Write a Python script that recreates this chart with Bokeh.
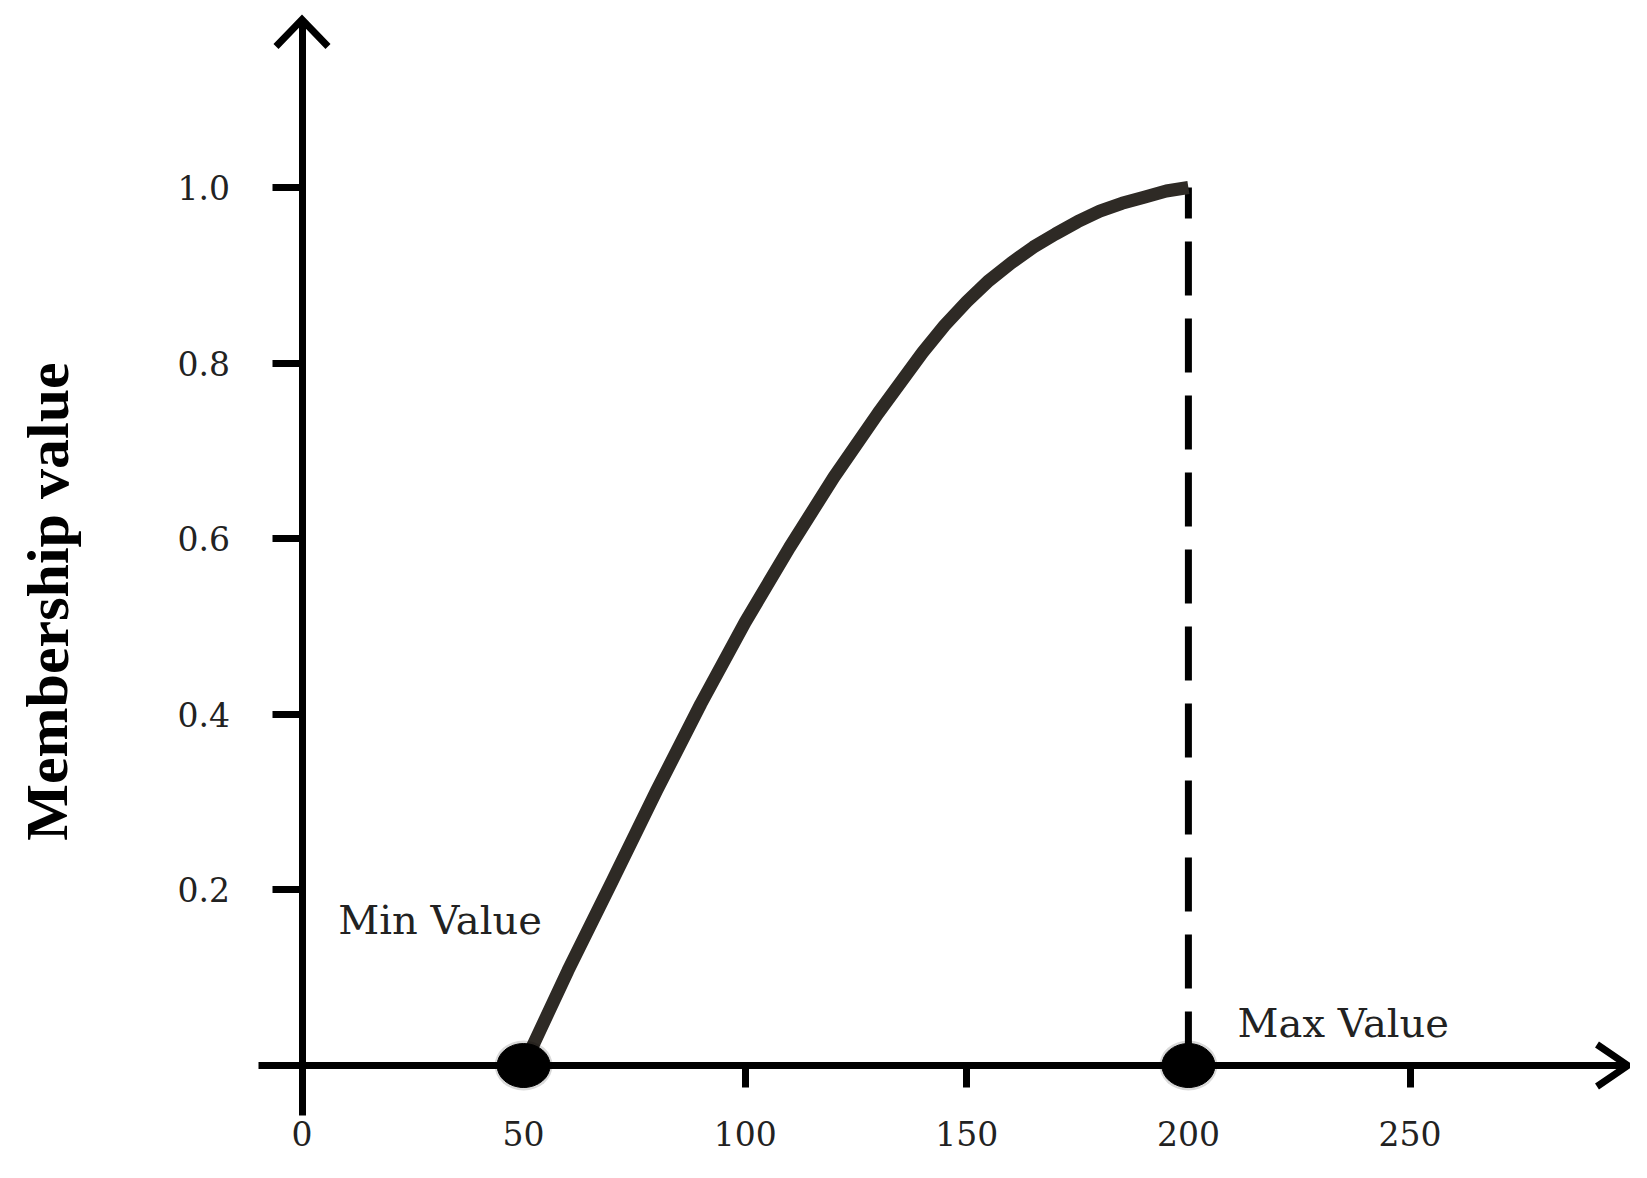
from bokeh.plotting import figure
from bokeh.models import (Range1d, LinearAxis, FixedTicker, PrintfTickFormatter,
                          Label, ColumnDataSource)
from bokeh.embed import file_html
from bokeh.resources import INLINE

# ---------------- data ----------------
curve_x = [50, 60, 70, 80, 90, 100, 110, 120, 130, 140, 145, 150, 155, 160,
           165, 170, 175, 180, 185, 190, 195, 200]
curve_y = [0.0, 0.108, 0.210, 0.313, 0.412, 0.505, 0.590, 0.670, 0.743, 0.812,
           0.843, 0.870, 0.894, 0.914, 0.932, 0.947, 0.961, 0.973, 0.982, 0.989,
           0.996, 1.0]
marker_x = [50, 200]          # Min Value, Max Value
marker_y = [0.0, 0.0]
marker_labels = ["Min Value", "Max Value"]
x_ticks = [0, 50, 100, 150, 200, 250]
y_ticks = [0.2, 0.4, 0.6, 0.8, 1.0]
y_axis_title = "Membership value"

# ---------------- layout ----------------
W, H = 1630, 1165
x0_px, kx = 301.5, 4.432      # canvas px of x=0, px per x unit
y0_px, ky = 1065.0, 878.0     # canvas px of y=0, px per y unit
x_range = Range1d(-x0_px / kx, (W - x0_px) / kx)
y_range = Range1d(-(H - y0_px) / ky, y0_px / ky)

p = figure(width=W, height=H, x_range=x_range, y_range=y_range,
           output_backend="svg", toolbar_location=None,
           x_axis_type=None, y_axis_type=None, min_border=0)
p.outline_line_color = None
p.grid.visible = False
p.background_fill_color = "white"
p.border_fill_color = "white"

AX_W = 7
y_bot = -50 / ky
y_tip = 1046 / ky
x_left = -44 / kx
x_tip = 1326 / kx

xaxis = LinearAxis(fixed_location=0, bounds=(x_left, x_tip - 3 / kx),
                   ticker=FixedTicker(ticks=x_ticks))
xaxis.axis_line_width = AX_W
xaxis.axis_line_color = "black"
xaxis.major_tick_line_width = AX_W
xaxis.major_tick_in = 0
xaxis.major_tick_out = 22
xaxis.minor_tick_line_color = None
xaxis.major_label_standoff = 33
xaxis.major_label_text_font = "DejaVu Serif"
xaxis.major_label_text_font_size = "33px"
xaxis.major_label_text_color = "#222222"
p.add_layout(xaxis, "below")

yaxis = LinearAxis(fixed_location=0, bounds=(y_bot, y_tip - 3 / ky),
                   ticker=FixedTicker(ticks=y_ticks),
                   formatter=PrintfTickFormatter(format="%.1f"))
yaxis.axis_line_width = AX_W
yaxis.axis_line_color = "black"
yaxis.major_tick_line_width = AX_W
yaxis.major_tick_in = 0
yaxis.major_tick_out = 30
yaxis.minor_tick_line_color = None
yaxis.major_label_standoff = 42
yaxis.major_label_text_font = "DejaVu Serif"
yaxis.major_label_text_font_size = "33px"
yaxis.major_label_text_color = "#222222"
p.add_layout(yaxis, "left")

# arrow heads (open V shapes at the ends of the axes)
p.multi_line(xs=[[-26 / kx, 0, 26 / kx], [x_tip - 31 / kx, x_tip, x_tip - 31 / kx]],
             ys=[[y_tip - 27 / ky, y_tip, y_tip - 27 / ky], [21 / ky, 0, -21 / ky]],
             line_color="black", line_width=AX_W, line_join="miter")

# dashed drop line at max value
p.line(x=[marker_x[1], marker_x[1]], y=[marker_y[1], curve_y[-1]],
       line_color="black", line_width=7, line_dash="54 23")

# membership curve
p.line(x=curve_x, y=curve_y, line_color="#2e2a25", line_width=13,
       line_join="round")

# end points (soft shadow + dot)
src = ColumnDataSource(dict(x=marker_x, y=marker_y))
p.ellipse(x="x", y="y", width=58, height=50, width_units="screen",
          height_units="screen", fill_color="black", fill_alpha=0.15,
          line_color=None, source=src)
p.ellipse(x="x", y="y", width=53, height=44, width_units="screen",
          height_units="screen", fill_color="black", line_color="black", source=src)

# labels
p.add_layout(Label(x=8.2, y=0.166, text=marker_labels[0],
                   text_font="DejaVu Serif", text_font_size="40px",
                   text_color="#222222", text_baseline="alphabetic"))
p.add_layout(Label(x=211.1, y=0.048, text=marker_labels[1],
                   text_font="DejaVu Serif", text_font_size="40px",
                   text_color="#222222", text_baseline="alphabetic"))
p.add_layout(Label(x=(47 - 301.5) / kx, y=(1065 - 601) / ky, text=y_axis_title,
                   angle=1.5707963, text_font="Liberation Serif",
                   text_font_size="60px", text_font_style="bold",
                   text_color="black",
                   text_align="center", text_baseline="middle"))

open("out.html", "w").write(file_html(p, INLINE))
